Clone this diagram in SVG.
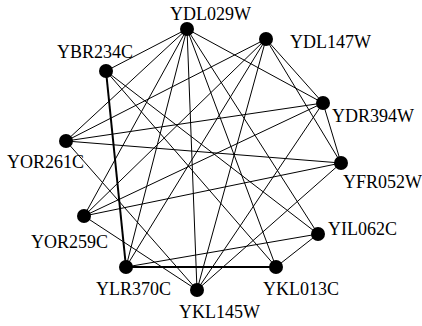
<svg xmlns="http://www.w3.org/2000/svg" width="422" height="326" viewBox="0 0 422 326">
<style>
.e{stroke:#000;stroke-width:1;fill:none}
.t{stroke:#000;stroke-width:2;fill:none}
.n{fill:#000}
</style>
<rect width="422" height="326" fill="#fff"/>
<g id="connectors">
<line class="e" x1="187" y1="29" x2="106" y2="71"/>
<line class="e" x1="187" y1="29" x2="66" y2="141"/>
<line class="e" x1="187" y1="29" x2="84" y2="216"/>
<line class="e" x1="187" y1="29" x2="126" y2="267"/>
<line class="e" x1="187" y1="29" x2="197" y2="290"/>
<line class="e" x1="187" y1="29" x2="276" y2="267"/>
<line class="e" x1="187" y1="29" x2="318" y2="234"/>
<line class="e" x1="187" y1="29" x2="323" y2="103"/>
<line class="e" x1="266" y1="39" x2="66" y2="141"/>
<line class="e" x1="266" y1="39" x2="197" y2="290"/>
<line class="e" x1="266" y1="39" x2="323" y2="103"/>
<line class="e" x1="266" y1="39" x2="341" y2="163"/>
<line class="e" x1="266" y1="39" x2="84" y2="216"/>
<line class="e" x1="266" y1="39" x2="126" y2="267"/>
<line class="t" x1="106" y1="71" x2="126" y2="267"/>
<line class="e" x1="106" y1="71" x2="318" y2="234"/>
<line class="e" x1="106" y1="71" x2="276" y2="267"/>
<line class="e" x1="323" y1="103" x2="66" y2="141"/>
<line class="e" x1="323" y1="103" x2="84" y2="216"/>
<line class="e" x1="323" y1="103" x2="341" y2="163"/>
<line class="e" x1="323" y1="103" x2="197" y2="290"/>
<line class="e" x1="66" y1="141" x2="341" y2="163"/>
<line class="e" x1="66" y1="141" x2="197" y2="290"/>
<line class="e" x1="341" y1="163" x2="84" y2="216"/>
<line class="e" x1="341" y1="163" x2="197" y2="290"/>
<line class="e" x1="84" y1="216" x2="197" y2="290"/>
<line class="e" x1="318" y1="234" x2="126" y2="267"/>
<line class="e" x1="318" y1="234" x2="276" y2="267"/>
<line class="t" x1="126" y1="267" x2="276" y2="267"/>
</g>
<g font-family="Liberation Serif, Times New Roman, serif" font-size="18" fill="#000">
<g id="YDL029W"><circle class="n" cx="187" cy="29" r="7"/><text x="170" y="20">YDL029W</text></g>
<g id="YDL147W"><circle class="n" cx="266" cy="39" r="7"/><text x="290" y="48">YDL147W</text></g>
<g id="YBR234C"><circle class="n" cx="106" cy="71" r="7"/><text x="57" y="58">YBR234C</text></g>
<g id="YDR394W"><circle class="n" cx="323" cy="103" r="7"/><text x="332" y="122">YDR394W</text></g>
<g id="YOR261C"><circle class="n" cx="66" cy="141" r="7"/><text x="7" y="168">YOR261C</text></g>
<g id="YFR052W"><circle class="n" cx="341" cy="163" r="7"/><text x="343" y="188">YFR052W</text></g>
<g id="YOR259C"><circle class="n" cx="84" cy="216" r="7"/><text x="31" y="248">YOR259C</text></g>
<g id="YIL062C"><circle class="n" cx="318" cy="234" r="7"/><text x="328" y="235">YIL062C</text></g>
<g id="YLR370C"><circle class="n" cx="126" cy="267" r="7"/><text x="96" y="295">YLR370C</text></g>
<g id="YKL013C"><circle class="n" cx="276" cy="267" r="7"/><text x="263" y="295">YKL013C</text></g>
<g id="YKL145W"><circle class="n" cx="197" cy="290" r="7"/><text x="179" y="318">YKL145W</text></g>
</g>
</svg>
